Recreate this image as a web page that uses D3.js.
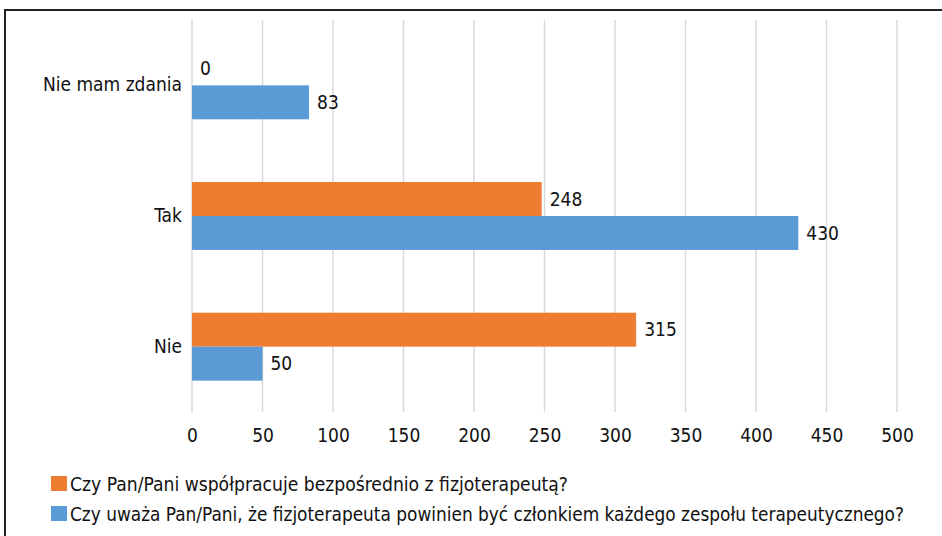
<!DOCTYPE html>
<html><head><meta charset="utf-8">
<script src="https://cdn.jsdelivr.net/npm/d3@7/dist/d3.min.js"></script>
<style>
body{margin:0;background:#fff;}
text{font-family:"Liberation Sans Narrow","DejaVu Sans Condensed","Open Sans",sans-serif;fill:#111;}
</style></head>
<body><svg id="c" width="942" height="536"></svg>
<script>
const categories = ["Nie mam zdania","Tak","Nie"];
const seriesNames = ["Czy Pan/Pani współpracuje bezpośrednio z fizjoterapeutą?",
  "Czy uważa Pan/Pani, że fizjoterapeuta powinien być członkiem każdego zespołu terapeutycznego?"];
const seriesOrange = [0,248,315];
const seriesBlue = [83,430,50];
const xTicks = [0,50,100,150,200,250,300,350,400,450,500];
const colors = ["#ED7D31","#5B9BD5"];

const svg = d3.select("#c");
// frame
svg.append("rect").attr("x",5).attr("y",10).attr("width",960).attr("height",560)
  .attr("fill","none").attr("stroke","#222").attr("stroke-width",2);

const x = d3.scaleLinear().domain([0,500]).range([192,897]);
const y = d3.scaleBand().domain(categories).range([20,412]).paddingInner(0.48).paddingOuter(0.24);
const sub = d3.scaleBand().domain([0,1]).range([0,y.bandwidth()]);

// gridlines
svg.append("g").selectAll("line").data(xTicks).join("line")
  .attr("x1",d=>x(d)).attr("x2",d=>x(d)).attr("y1",20).attr("y2",412)
  .attr("stroke","#d9d9d9").attr("stroke-width",1.5);

// tick labels
const ax = d3.axisBottom(x).tickValues(xTicks).tickSize(0).tickPadding(0);
const axg = svg.append("g").attr("transform","translate(0,428)").call(ax);
axg.select(".domain").remove();
axg.selectAll("text").attr("font-size","19px").style("font-family",null).attr("fill","#111");

// category labels
const ay = d3.axisLeft(y).tickSize(0).tickPadding(10);
const ayg = svg.append("g").attr("transform","translate(192,0)").call(ay);
ayg.select(".domain").remove();
ayg.selectAll("text").attr("font-size","19px").attr("fill","#111");

const series = [seriesOrange, seriesBlue];
series.forEach((vals,si)=>{
  const g = svg.append("g");
  g.selectAll("rect").data(vals).join("rect")
    .attr("x",x(0)).attr("y",(d,i)=>y(categories[i])+sub(si))
    .attr("width",d=>x(d)-x(0)).attr("height",sub.bandwidth())
    .attr("fill",colors[si]);
  g.selectAll("text").data(vals).join("text")
    .attr("x",d=>x(d)+8).attr("y",(d,i)=>y(categories[i])+sub(si)+sub.bandwidth()/2)
    .attr("dy","0.35em").attr("font-size","19px").text(d=>d);
});

// legend
const leg = svg.append("g");
seriesNames.forEach((n,i)=>{
  const yy = 484 + i*30;
  leg.append("rect").attr("x",51).attr("y",yy-8).attr("width",16).attr("height",15).attr("fill",colors[i]);
  leg.append("text").attr("x",70).attr("y",yy).attr("dy","0.35em").attr("font-size","19px")
    .attr("textLength", i===0?498:834).attr("lengthAdjust","spacingAndGlyphs").text(n);
});
</script></body></html>
